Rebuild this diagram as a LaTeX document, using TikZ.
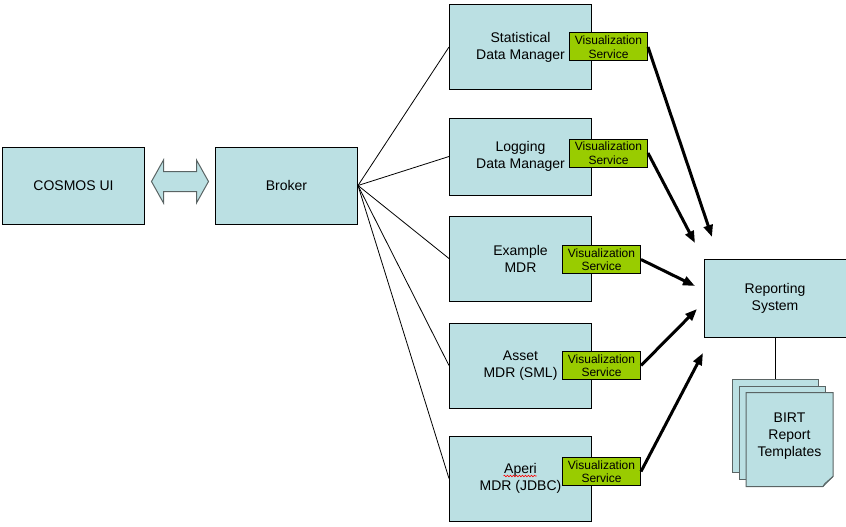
\documentclass[tikz,border=0pt]{standalone}
\usepackage{fontspec}
\setmainfont{Liberation Sans}
\usetikzlibrary{arrows.meta, positioning, calc, decorations.pathmorphing}
\definecolor{boxteal}{RGB}{187,224,227}
\definecolor{foldteal}{RGB}{150,185,188}
\definecolor{vizgreen}{RGB}{153,204,0}
\definecolor{pagegray}{RGB}{90,100,100}
\tikzset{
  comp/.style={rectangle, draw=black, line width=1pt, fill=boxteal,
               minimum width=142pt, inner sep=0pt, align=center,
               font=\fontsize{14}{17}\selectfont},
  viz/.style={rectangle, draw=black, line width=1pt, fill=vizgreen,
              minimum width=78pt, minimum height=28pt, inner sep=0pt,
              align=center, font=\fontsize{12}{13.5}\selectfont},
  page/.style={rectangle, draw=pagegray, line width=1pt, fill=boxteal,
               minimum width=86pt, minimum height=93pt},
  dblarrow/.style={draw=pagegray, line width=1pt, fill=boxteal},
  link/.style={line width=0.8pt},
  arr/.style={-{Triangle[length=12pt,width=9pt]}, line width=3pt},
}

\begin{document}
\begin{tikzpicture}[x=1pt, y=-1pt]
  \useasboundingbox (0,0) rectangle (846,527);
  % left part
  \node[comp, minimum height=77pt] (ui) at (73.5,185.5) {COSMOS UI};
  \node[comp, minimum height=77pt, right=70pt of ui] (broker) {Broker};
  \coordinate (dbl) at ($(ui.east)!0.5!(broker.west)+(0,-4)$);
  \draw[dblarrow] (dbl) ++(-28.5,0) -- ++(12,-21.5) -- ++(0,11.5) -- ++(33,0)
     -- ++(0,-11.5) -- ++(12,21.5) -- ++(-12,21.5) -- ++(0,-11.5)
     -- ++(-33,0) -- ++(0,11.5) -- cycle;
  % data managers and MDRs
  \node[comp, minimum height=84pt] (stat) at (520.5,47) {Statistical\\Data Manager};
  \node[comp, minimum height=77pt, below=28pt of stat]    (logging) {Logging\\Data Manager};
  \node[comp, minimum height=85pt, below=20pt of logging] (example) {Example\\MDR};
  \node[comp, minimum height=85pt, below=21pt of example] (asset)   {Asset\\MDR (SML)};
  \node[comp, minimum height=85pt, below=27pt of asset]   (aperi)   {Aperi\\MDR (JDBC)};
  \draw[red, line width=0.6pt, decorate,
        decoration={snake, amplitude=0.8pt, segment length=3pt}]
     ($(aperi.center)+(-17,-2.5)$) -- ($(aperi.center)+(16,-2.5)$);
  \node[viz, right=-23pt of stat]                 (vstat) {Visualization\\Service};
  \node[viz, right=-23pt of logging, yshift=3.5pt] (vlog)  {Visualization\\Service};
  \node[viz, right=-30pt of example, yshift=-1pt]  (vex)   {Visualization\\Service};
  \node[viz, right=-30pt of asset]                 (vas)   {Visualization\\Service};
  \node[viz, right=-30pt of aperi, yshift=7pt]     (vap)   {Visualization\\Service};
  % reporting
  \node[comp, minimum height=78pt] (rep) at (775,298) {Reporting\\System};
  \node[page] (pg1) at (775,425.5) {};
  \node[page] (pg2) at ($(pg1)+(7,7)$) {};
  \node[page, draw=none, fill=none] (pg3) at ($(pg2)+(7.5,7)$) {};
  \draw[pagegray, line width=1pt, fill=boxteal] (pg3.north west) -- (pg3.north east)
     -- ($(pg3.south east)+(0,-10)$) -- ($(pg3.south east)+(-10,0)$)
     -- (pg3.south west) -- cycle;
  \draw[pagegray, line width=1pt, fill=foldteal] ($(pg3.south east)+(0,-10)$)
     -- ($(pg3.south east)+(-8,-3)$) -- ($(pg3.south east)+(-10,0)$);
  \node[align=center, font=\fontsize{14}{17}\selectfont] (birt)
     at ($(pg3)+(0,-3)$) {BIRT\\Report\\Templates};
  % connectors
  \foreach \m in {stat,logging,example,asset,aperi}
    \draw[link] (broker.east) -- (\m.west);
  \draw[link] (rep.south) -- (pg1.north);
  \coordinate (tipA) at (712,237);
  \coordinate (tipB) at (695,243);
  \coordinate (tipC) at (695,286);
  \coordinate (tipD) at (697,309);
  \coordinate (tipE) at (703,353);
  \draw[arr] (vstat.east) -- (tipA);
  \draw[arr] (vlog.east)  -- (tipB);
  \draw[arr] (vex.east)   -- (tipC);
  \draw[arr] (vas.east)   -- (tipD);
  \draw[arr] (vap.east)   -- (tipE);
\end{tikzpicture}
\end{document}
